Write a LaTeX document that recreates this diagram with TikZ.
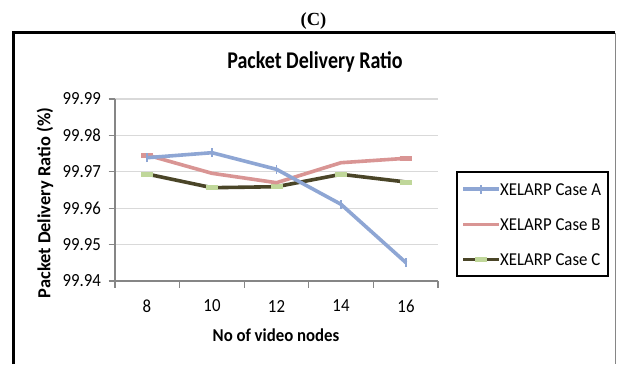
\documentclass[tikz,border=0pt]{standalone}
\usepackage{fontspec}
\setmainfont{Carlito}
\newfontfamily\capfont{Liberation Serif}
\definecolor{seriesA}{RGB}{142,166,212}
\definecolor{seriesB}{RGB}{217,149,148}
\definecolor{seriesC}{RGB}{74,69,40}
\definecolor{markC}{RGB}{192,215,154}
\definecolor{gridc}{RGB}{217,217,217}
\definecolor{axisc}{RGB}{134,134,134}
\tikzset{
  ticklabel/.style={font=\fontsize{16.8}{18}\selectfont, inner sep=0pt, yscale=1.1},
  axistitle/.style={font=\bfseries\fontsize{16.8}{19}\selectfont, inner sep=0pt, yscale=1.08},
  legtext/.style={font=\fontsize{16.8}{18}\selectfont, inner sep=0pt, anchor=west, yscale=1.08},
  lineA/.style={seriesA, line width=3.6pt, line join=round},
  lineB/.style={seriesB, line width=3.6pt, line join=round},
  lineC/.style={seriesC, line width=3.6pt, line join=round},
  gridline/.style={gridc, line width=1.2pt},
  axisline/.style={axisc, line width=1.2pt},
}
\newcommand\plusmark[1]{\draw[seriesA, line width=1.4pt] ([yshift=-4.5pt]#1) -- ([yshift=4.5pt]#1);}
\newcommand\dashmarkB[1]{\fill[seriesB] ([xshift=-6pt,yshift=-2.5pt]#1) rectangle ([xshift=6pt,yshift=2.5pt]#1);}
\newcommand\dashmarkC[1]{\fill[markC] ([xshift=-6pt,yshift=-2.5pt]#1) rectangle ([xshift=6pt,yshift=2.5pt]#1);}
\begin{document}
\begin{tikzpicture}[x=1pt,y=-1pt]
\useasboundingbox (0,0) rectangle (617,364);
\fill[white] (0,0) rectangle (617,364);

% outer chart frame
\draw[black, line width=2.6pt] (13.5,364) -- (13.5,32.5) -- (615,32.5);
\draw[axisc, line width=1pt] (615,33) -- (615,364);

% caption and title
\node[font=\capfont\bfseries\fontsize{18.5}{20}\selectfont, inner sep=0pt] (cap) at (313.5,21) {(C)};
\node[font=\bfseries\fontsize{20}{22}\selectfont, inner sep=0pt, yscale=1.2] (title) at (315,62) {Packet Delivery Ratio};

% horizontal grid lines and value labels
\foreach \v/\yy in {99.99/99,99.98/135.4,99.97/171.8,99.96/208.2,99.95/244.6} {
  \draw[gridline] (115,\yy) -- (438,\yy);
}
\foreach \v/\yy in {99.99/99,99.98/135.4,99.97/171.8,99.96/208.2,99.95/244.6,99.94/281} {
  \draw[axisline] (108.5,\yy) -- (115,\yy);
  \node[ticklabel, anchor=east] (yl\v) at (101,\yy) {\v};
}

% axes
\draw[axisline] (115,99) -- (115,287.5);
\draw[axisline] (115,281) -- (438,281);
\foreach \xx in {179.6,244.2,308.8,373.4,438} {
  \draw[axisline] (\xx,281) -- (\xx,287.5);
}

% category labels
\foreach \lab/\xx in {8/147,10/212,12/276.5,14/341,16/406} {
  \node[ticklabel] (xl\lab) at (\xx,306) {\lab};
}
\node[axistitle] (xtitle) at (276,335) {No of video nodes};
\node[font=\bfseries\fontsize{18.4}{20}\selectfont, inner sep=0pt, rotate=90] (ytitle) at (45,203) {Packet Delivery Ratio (\%)};

% data points
\coordinate (a1) at (147,157.7); \coordinate (a2) at (212,152.7);
\coordinate (a3) at (276.5,169.3); \coordinate (a4) at (341,204.3);
\coordinate (a5) at (406,262.7);
\coordinate (b1) at (147,155); \coordinate (b2) at (212,173.3);
\coordinate (b3) at (276.5,182.7); \coordinate (b4) at (341,162.7);
\coordinate (b5) at (406,158.3);
\coordinate (c1) at (147,174); \coordinate (c2) at (212,187.7);
\coordinate (c3) at (276.5,186.7); \coordinate (c4) at (341,174.3);
\coordinate (c5) at (406,182);

% series C
\draw[lineC] (c1) -- (c2) -- (c3) -- (c4) -- (c5);
\foreach \p in {c1,c2,c3,c4,c5} { \dashmarkC{\p} }
% series B
\draw[lineB] (b1) -- (b2) -- (b3) -- (b4) -- (b5);
\foreach \p in {b1,b5} { \dashmarkB{\p} }
% series A
\draw[lineA] (a1) -- (a2) -- (a3) -- (a4) -- (a5);
\foreach \p in {a1,a2,a3,a4,a5} { \plusmark{\p} }

% legend
\node[draw=black, line width=1.6pt, minimum width=151pt, minimum height=104pt, inner sep=0pt] (legend) at (532.5,224) {};
\coordinate (la0) at (463,189); \coordinate (la1) at (499,189);
\coordinate (lb0) at (463,224.3); \coordinate (lb1) at (499,224.3);
\coordinate (lc0) at (463,259.3); \coordinate (lc1) at (499,259.3);
\coordinate (lam) at (481,189);
\draw[lineA] (la0) -- (la1);
\draw[seriesA, line width=1.4pt] ([yshift=-4.5pt]lam) -- ([yshift=4.5pt]lam);
\draw[lineB] (lb0) -- (lb1);
\draw[lineC] (lc0) -- (lc1);
\fill[markC] (475,256.8) rectangle (487,261.8);
\node[legtext] (ta) at (500,190) {XELARP Case A};
\node[legtext] (tb) at (500,224.8) {XELARP Case B};
\node[legtext] (tc) at (500,259.3) {XELARP Case C};
\end{tikzpicture}
\end{document}
